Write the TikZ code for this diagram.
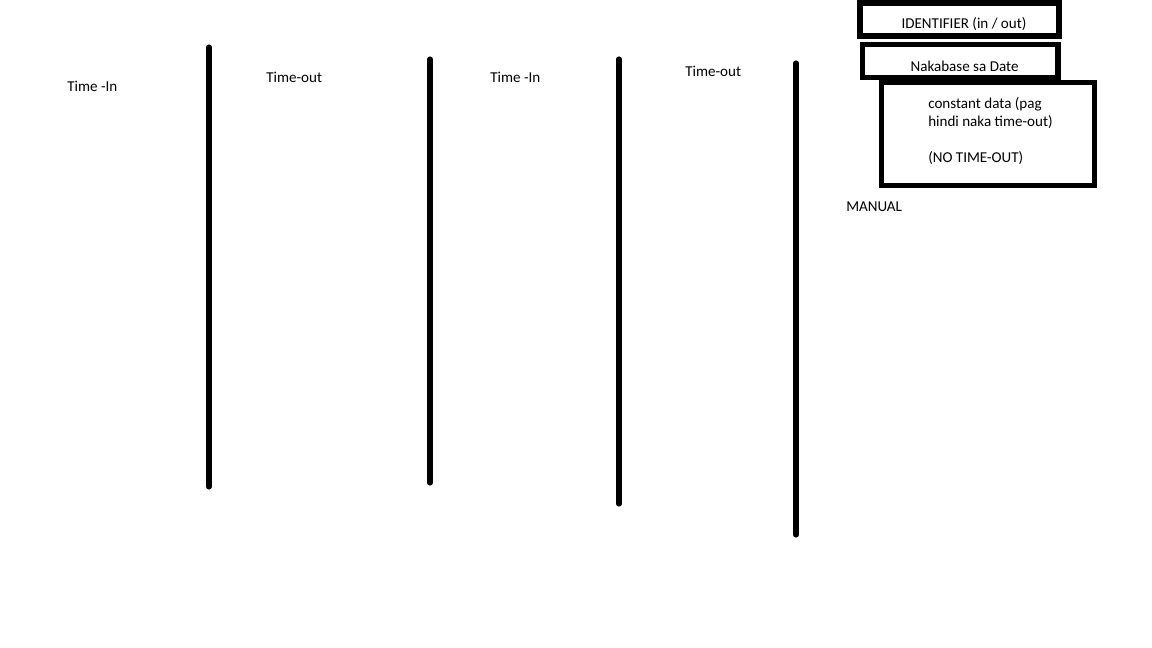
\documentclass[tikz,border=0pt]{standalone}
\usepackage{fontspec}
\setmainfont{Carlito}
\begin{document}
\begin{tikzpicture}[x=0.75pt,y=-0.75pt,
  bar/.style={line width=3.8pt,line cap=round,black},
  boxframe/.style={line width=4.2pt,black},
  lbl/.style={anchor=west,inner sep=0pt,font=\fontsize{11.3pt}{13.5pt}\selectfont,text=black},
  ctr/.style={anchor=center,inner sep=0pt,font=\fontsize{11.3pt}{13.5pt}\selectfont,text=black}]
\useasboundingbox[fill=white] (0,0) rectangle (1152,648);
% vertical bars
\coordinate (l1t) at (209,47);  \coordinate (l1b) at (209,487);
\coordinate (l2t) at (430,59);  \coordinate (l2b) at (430,483);
\coordinate (l3t) at (619,59);  \coordinate (l3b) at (619,504);
\coordinate (l4t) at (796,63);  \coordinate (l4b) at (796,535);
\draw[bar] (l1t) -- (l1b);
\draw[bar] (l2t) -- (l2b);
\draw[bar] (l3t) -- (l3b);
\draw[bar] (l4t) -- (l4b);
% column labels
\node[lbl] (ti1) at (67,86) {Time -In};
\node[lbl] (to1) at (266,77) {Time-out};
\node[lbl] (ti2) at (490,77) {Time -In};
\node[lbl] (to2) at (685,71) {Time-out};
% boxes
\draw[boxframe] (860,3) rectangle (1059,36);
\draw[boxframe] (862.5,44.5) rectangle (1058,77.5);
\draw[boxframe] (881.5,82.5) rectangle (1094.5,185.5);
\node[ctr] (ident) at (964,24) {IDENTIFIER (in / out)};
\node[ctr] (naka) at (964.5,66) {Nakabase sa Date};
\node[lbl] (c1) at (928,104) {constant data (pag};
\node[lbl] (c2) at (928,122) {hindi naka time-out)};
\node[lbl] (c3) at (928,158) {(NO TIME-OUT)};
\node[lbl] (man) at (846,207) {MANUAL};
\end{tikzpicture}
\end{document}
